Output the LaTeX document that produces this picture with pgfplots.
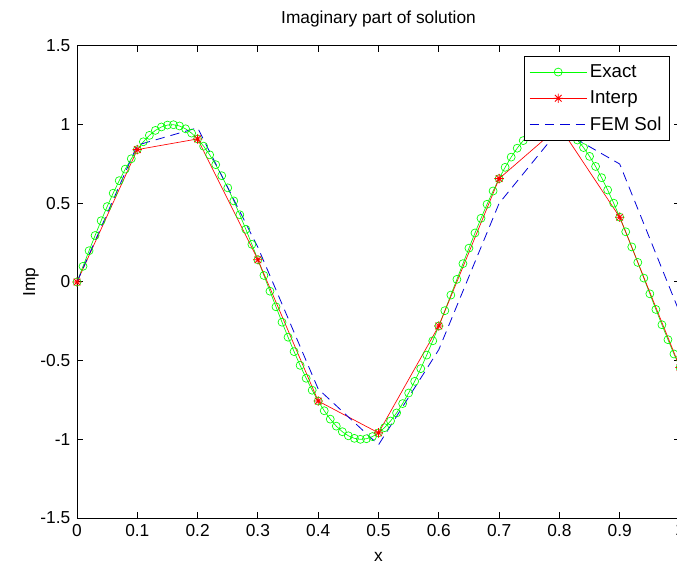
\documentclass[border=0pt]{standalone}
\usepackage{pgfplots}
\pgfplotsset{compat=1.18}
\usepackage{fontspec}
\setmainfont{Liberation Sans}
\newcommand\fs{\fontsize{13}{15}\selectfont}
\newcommand\fl{\fontsize{14}{16}\selectfont}
\pgfdeclareplotmark{mstar}{%
 \pgfpathmoveto{\pgfqpoint{-\pgfplotmarksize}{0pt}}\pgfpathlineto{\pgfqpoint{\pgfplotmarksize}{0pt}}%
 \pgfpathmoveto{\pgfqpoint{0pt}{-\pgfplotmarksize}}\pgfpathlineto{\pgfqpoint{0pt}{\pgfplotmarksize}}%
 \pgfpathmoveto{\pgfqpoint{-0.707\pgfplotmarksize}{-0.707\pgfplotmarksize}}\pgfpathlineto{\pgfqpoint{0.707\pgfplotmarksize}{0.707\pgfplotmarksize}}%
 \pgfpathmoveto{\pgfqpoint{-0.707\pgfplotmarksize}{0.707\pgfplotmarksize}}\pgfpathlineto{\pgfqpoint{0.707\pgfplotmarksize}{-0.707\pgfplotmarksize}}%
 \pgfusepathqstroke}
\definecolor{mgreen}{rgb}{0,1,0}
\definecolor{mred}{rgb}{1,0,0}
\definecolor{mblue}{rgb}{0,0,0.85}
\begin{document}
\begin{tikzpicture}
\begin{axis}[name=ax,
 scale only axis, width=452.25pt, height=354pt,
 xmin=0, xmax=1, ymin=-1.5, ymax=1.5,
 xtick={0,0.1,...,1.0}, ytick={-1.5,-1,...,1.5},
 /pgf/number format/assume math mode=true,
 tick align=inside, xtick pos=both, ytick pos=both,
 major tick length=4.5pt,
 axis line style={line width=0.75pt}, tick style={line width=0.75pt, black},
 ticklabel style={font=\fs},
 yticklabel style={xshift=-1.5pt},
 xticklabel style={yshift=-1pt},
 clip=false,
 title={Imaginary part of solution},
 title style={font=\fs, at={(axis description cs:0.5,1)}, anchor=center, yshift=14pt},
 xlabel={x}, ylabel={Imp},
 xlabel style={font=\fs, at={(axis description cs:0.5,-0.082)}, anchor=center},
 ylabel style={font=\fs, at={(axis description cs:-0.0763,0.5)}, anchor=center},
 legend style={font=\fl, at={(0.983,0.978)}, anchor=north east, fill=white, row sep=4.5pt, inner sep=4pt},
 legend cell align=left,
 legend image code/.code={\draw[mark repeat=2,mark phase=2] plot coordinates {(0pt,0pt) (21.5pt,0pt) (43pt,0pt)};},
]
\addplot[color=mgreen, line width=0.5pt, mark=o, mark size=3pt, mark options={solid, line width=0.5pt}] coordinates {
(0.00,0.0000)(0.01,0.0998)(0.02,0.1987)(0.03,0.2955)(0.04,0.3894)(0.05,0.4794)(0.06,0.5646)(0.07,0.6442)(0.08,0.7174)(0.09,0.7833)
(0.10,0.8415)(0.11,0.8912)(0.12,0.9320)(0.13,0.9636)(0.14,0.9854)(0.15,0.9975)(0.16,0.9996)(0.17,0.9917)(0.18,0.9738)(0.19,0.9463)
(0.20,0.9093)(0.21,0.8632)(0.22,0.8085)(0.23,0.7457)(0.24,0.6755)(0.25,0.5985)(0.26,0.5155)(0.27,0.4274)(0.28,0.3350)(0.29,0.2392)
(0.30,0.1411)(0.31,0.0416)(0.32,-0.0584)(0.33,-0.1577)(0.34,-0.2555)(0.35,-0.3508)(0.36,-0.4425)(0.37,-0.5298)(0.38,-0.6119)(0.39,-0.6878)
(0.40,-0.7568)(0.41,-0.8183)(0.42,-0.8716)(0.43,-0.9162)(0.44,-0.9516)(0.45,-0.9775)(0.46,-0.9937)(0.47,-0.9999)(0.48,-0.9962)(0.49,-0.9825)
(0.50,-0.9589)(0.51,-0.9258)(0.52,-0.8835)(0.53,-0.8323)(0.54,-0.7728)(0.55,-0.7055)(0.56,-0.6313)(0.57,-0.5507)(0.58,-0.4646)(0.59,-0.3739)
(0.60,-0.2794)(0.61,-0.1822)(0.62,-0.0831)(0.63,0.0168)(0.64,0.1165)(0.65,0.2151)(0.66,0.3115)(0.67,0.4048)(0.68,0.4941)(0.69,0.5784)
(0.70,0.6570)(0.71,0.7290)(0.72,0.7937)(0.73,0.8504)(0.74,0.8987)(0.75,0.9380)(0.76,0.9679)(0.77,0.9882)(0.78,0.9985)(0.79,0.9989)
(0.80,0.9894)(0.81,0.9699)(0.82,0.9407)(0.83,0.9022)(0.84,0.8546)(0.85,0.7985)(0.86,0.7344)(0.87,0.6630)(0.88,0.5849)(0.89,0.5010)
(0.90,0.4121)(0.91,0.3191)(0.92,0.2229)(0.93,0.1245)(0.94,0.0248)(0.95,-0.0752)(0.96,-0.1743)(0.97,-0.2718)(0.98,-0.3665)(0.99,-0.4575)
(1.00,-0.5440)};
\addlegendentry{Exact}
\addplot[color=mred, line width=0.5pt, mark=mstar, mark size=3.5pt, mark options={solid, line width=0.6pt}] coordinates {
(0,0)(0.1,0.8415)(0.2,0.9093)(0.3,0.1411)(0.4,-0.7568)(0.5,-0.9589)(0.6,-0.2794)(0.7,0.6570)(0.8,0.9894)(0.9,0.4121)(1.0,-0.5440)};
\addlegendentry{Interp}
\addplot[color=mblue, line width=0.6pt, dash pattern=on 7pt off 4.5pt] coordinates {
(0,0)(0.1,0.87)(0.2,0.98)(0.3,0.22)(0.4,-0.68)(0.5,-1.035)(0.6,-0.43)(0.7,0.50)(0.8,0.97)(0.9,0.75)(1.0,-0.20)};
\addlegendentry{FEM Sol}
\end{axis}
\pgfresetboundingbox
\path[use as bounding box] ([xshift=-57.75pt,yshift=-33.75pt]ax.south west) rectangle ([xshift=-2.25pt,yshift=34.5pt]ax.north east);
\end{tikzpicture}
\end{document}
